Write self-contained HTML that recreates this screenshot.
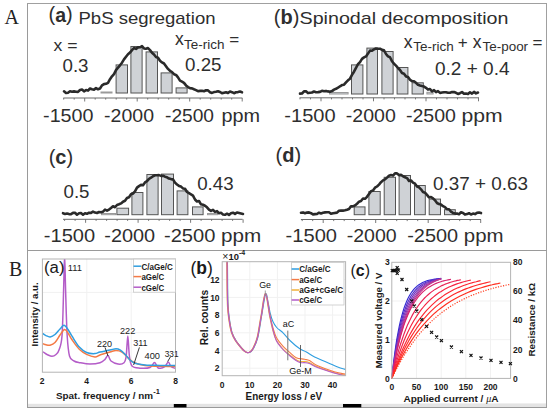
<!DOCTYPE html><html><head><meta charset="utf-8"><style>html,body{margin:0;padding:0;background:#fff;width:550px;height:412px;overflow:hidden}svg{display:block}</style></head><body>
<svg width="550" height="412" viewBox="0 0 550 412">
<rect width="550" height="412" fill="#fff"/>
<text x="4.5" y="23.6" font-family="Liberation Serif" font-size="20" fill="#222">A</text>
<text x="9" y="276.4" font-family="Liberation Serif" font-size="20" fill="#222">B</text>
<rect x="404" y="403.5" width="142" height="4" fill="#e6e6e6"/>
<rect x="28" y="403.8" width="518" height="3.4" fill="#e4e4e4"/>
<line x1="27.5" y1="3" x2="27.5" y2="408" stroke="#9a9a9a" stroke-width="1"/>
<line x1="27" y1="3.5" x2="547" y2="3.5" stroke="#a0a0a0" stroke-width="1"/>
<line x1="546.5" y1="3" x2="546.5" y2="408" stroke="#a0a0a0" stroke-width="1"/>
<line x1="27" y1="250.5" x2="547" y2="250.5" stroke="#9a9a9a" stroke-width="1"/>
<line x1="27" y1="407.5" x2="547" y2="407.5" stroke="#9a9a9a" stroke-width="1.2"/>
<rect x="173.8" y="404" width="12.7" height="3.4" fill="#000"/>
<rect x="343" y="404" width="18.3" height="3.4" fill="#000"/>
<text x="48.5" y="21.3" font-family="Liberation Sans" font-size="20" fill="#2e2e2e">(<tspan font-weight="bold" dy="0.5" font-size="19.5">a</tspan><tspan dy="-0.5">)</tspan></text>
<text x="78.5" y="23.5" font-family="Liberation Sans" font-size="17" font-weight="normal" text-anchor="start" fill="#2e2e2e" textLength="137" lengthAdjust="spacingAndGlyphs" >PbS segregation</text>
<text x="53.5" y="51" font-family="Liberation Sans" font-size="17" font-weight="normal" text-anchor="start" fill="#2e2e2e" textLength="24" lengthAdjust="spacingAndGlyphs" >x =</text>
<text x="62.5" y="72" font-family="Liberation Sans" font-size="17.5" font-weight="normal" text-anchor="start" fill="#2e2e2e" textLength="26" lengthAdjust="spacingAndGlyphs" >0.3</text>
<text x="174.9" y="45" font-family="Liberation Sans" font-size="17.5" font-weight="normal" text-anchor="start" fill="#2e2e2e" >x</text>
<text x="184" y="48.5" font-family="Liberation Sans" font-size="12.5" font-weight="normal" text-anchor="start" fill="#2e2e2e" textLength="40.4" lengthAdjust="spacingAndGlyphs" >Te-rich</text>
<text x="229.2" y="45" font-family="Liberation Sans" font-size="17" font-weight="normal" text-anchor="start" fill="#2e2e2e" >=</text>
<text x="185" y="70.6" font-family="Liberation Sans" font-size="18" font-weight="normal" text-anchor="start" fill="#2e2e2e" textLength="36.5" lengthAdjust="spacingAndGlyphs" >0.25</text>
<text x="43.1" y="122" font-family="Liberation Sans" font-size="19" font-weight="normal" text-anchor="start" fill="#2e2e2e" textLength="50.4" lengthAdjust="spacingAndGlyphs" >-1500</text>
<text x="104.1" y="122" font-family="Liberation Sans" font-size="19" font-weight="normal" text-anchor="start" fill="#2e2e2e" textLength="49.9" lengthAdjust="spacingAndGlyphs" >-2000</text>
<text x="165" y="122" font-family="Liberation Sans" font-size="19" font-weight="normal" text-anchor="start" fill="#2e2e2e" textLength="49" lengthAdjust="spacingAndGlyphs" >-2500</text>
<text x="221.5" y="122" font-family="Liberation Sans" font-size="19" font-weight="normal" text-anchor="start" fill="#2e2e2e" textLength="38.6" lengthAdjust="spacingAndGlyphs" >ppm</text>
<rect x="101" y="92" width="11" height="1" fill="#cfd2d6" stroke="#9a9a9a" stroke-width="1"/>
<rect x="116.1" y="64.9" width="11.4" height="28.1" fill="#cfd2d6" stroke="#555" stroke-width="1"/>
<rect x="130.9" y="46.5" width="11.2" height="46.5" fill="#cfd2d6" stroke="#555" stroke-width="1"/>
<rect x="146.1" y="51.9" width="11.4" height="41.1" fill="#cfd2d6" stroke="#555" stroke-width="1"/>
<rect x="161.1" y="72.9" width="11" height="20.1" fill="#cfd2d6" stroke="#555" stroke-width="1"/>
<rect x="176.1" y="87.9" width="11" height="5.1" fill="#cfd2d6" stroke="#555" stroke-width="1"/>
<line x1="63.3" y1="98" x2="242.4" y2="98" stroke="#6a6a6a" stroke-width="1"/>
<line x1="84.7" y1="98" x2="84.7" y2="101.5" stroke="#6a6a6a" stroke-width="0.9"/>
<line x1="74.2" y1="98" x2="74.2" y2="99.6" stroke="#6a6a6a" stroke-width="0.9"/>
<line x1="63.7" y1="98" x2="63.7" y2="99.6" stroke="#6a6a6a" stroke-width="0.9"/>
<line x1="95.2" y1="98" x2="95.2" y2="99.6" stroke="#6a6a6a" stroke-width="0.9"/>
<line x1="105.7" y1="98" x2="105.7" y2="99.6" stroke="#6a6a6a" stroke-width="0.9"/>
<line x1="116.2" y1="98" x2="116.2" y2="99.6" stroke="#6a6a6a" stroke-width="0.9"/>
<line x1="126.7" y1="98" x2="126.7" y2="99.6" stroke="#6a6a6a" stroke-width="0.9"/>
<line x1="137.2" y1="98" x2="137.2" y2="101.5" stroke="#6a6a6a" stroke-width="0.9"/>
<line x1="147.7" y1="98" x2="147.7" y2="99.6" stroke="#6a6a6a" stroke-width="0.9"/>
<line x1="158.2" y1="98" x2="158.2" y2="99.6" stroke="#6a6a6a" stroke-width="0.9"/>
<line x1="168.7" y1="98" x2="168.7" y2="99.6" stroke="#6a6a6a" stroke-width="0.9"/>
<line x1="179.2" y1="98" x2="179.2" y2="99.6" stroke="#6a6a6a" stroke-width="0.9"/>
<line x1="189.7" y1="98" x2="189.7" y2="101.5" stroke="#6a6a6a" stroke-width="0.9"/>
<line x1="200.2" y1="98" x2="200.2" y2="99.6" stroke="#6a6a6a" stroke-width="0.9"/>
<line x1="210.7" y1="98" x2="210.7" y2="99.6" stroke="#6a6a6a" stroke-width="0.9"/>
<line x1="221.2" y1="98" x2="221.2" y2="99.6" stroke="#6a6a6a" stroke-width="0.9"/>
<line x1="231.7" y1="98" x2="231.7" y2="99.6" stroke="#6a6a6a" stroke-width="0.9"/>
<line x1="242.2" y1="98" x2="242.2" y2="101.5" stroke="#6a6a6a" stroke-width="0.9"/>
<path d="M64,91.3 L66,93 L68,92.7 L70,91.3 L72,91.7 L74,91.4 L76,91.7 L78,91.9 L80,90 L82,89.6 L84,91.3 L86,90.1 L88,90.6 L90,88.5 L92,89.3 L94,89.6 L96,88.1 L98,89.3 L100,88.5 L102,85.4 L104,84.1 L106,83.8 L108,82.8 L110,79.2 L112,76.3 L114,74.1 L116,70.1 L118,67.7 L120,65.3 L122,62.7 L124,59.4 L126,56.8 L128,54.3 L130,52.6 L132,50.2 L134,48 L136,48.9 L138,47.4 L140,47.3 L142,46.2 L144,48.4 L146,48.8 L148,48.1 L150,50.1 L152,52.7 L154,54.5 L156,57 L158,57.8 L160,60.8 L162,62.4 L164,63.5 L166,66.2 L168,68.9 L170,70.8 L172,72 L174,74.2 L176,74.9 L178,77.4 L180,80.7 L182,81.7 L184,82.9 L186,85.4 L188,87.1 L190,88.2 L192,88.4 L194,89.3 L196,90.1 L198,91.2 L200,90.9 L202,90.8 L204,91.2 L206,90.3 L208,90.4 L210,92.2 L212,92.9 L214,92.1 L216,91.7 L218,91.2 L220,92 L222,93.2 L224,92.7 L226,92.2 L228,93 L230,91.5 L232,92.2 L234,93.2 L236,92.3 L238,92.1 L240,91.6 L242,92.3" fill="none" stroke="#2a2a2a" stroke-width="2.6" stroke-linejoin="round" stroke-linecap="round"/>
<text x="273.8" y="23.8" font-family="Liberation Sans" font-size="20" fill="#2e2e2e">(<tspan font-weight="bold">b</tspan>)</text>
<text x="299.5" y="24" font-family="Liberation Sans" font-size="17" font-weight="normal" text-anchor="start" fill="#2e2e2e" textLength="209" lengthAdjust="spacingAndGlyphs" >Spinodal decomposition</text>
<text x="403.7" y="48.2" font-family="Liberation Sans" font-size="17.5" font-weight="normal" text-anchor="start" fill="#2e2e2e" >x</text>
<text x="413.3" y="51.3" font-family="Liberation Sans" font-size="12.5" font-weight="normal" text-anchor="start" fill="#2e2e2e" textLength="40.4" lengthAdjust="spacingAndGlyphs" >Te-rich</text>
<text x="457.8" y="48.2" font-family="Liberation Sans" font-size="17" font-weight="normal" text-anchor="start" fill="#2e2e2e" >+</text>
<text x="472.7" y="48.2" font-family="Liberation Sans" font-size="17.5" font-weight="normal" text-anchor="start" fill="#2e2e2e" >x</text>
<text x="482.5" y="51.3" font-family="Liberation Sans" font-size="12.5" font-weight="normal" text-anchor="start" fill="#2e2e2e" textLength="45.6" lengthAdjust="spacingAndGlyphs" >Te-poor</text>
<text x="532.4" y="48.2" font-family="Liberation Sans" font-size="17" font-weight="normal" text-anchor="start" fill="#2e2e2e" >=</text>
<text x="435" y="75" font-family="Liberation Sans" font-size="18" font-weight="normal" text-anchor="start" fill="#2e2e2e" textLength="74.5" lengthAdjust="spacingAndGlyphs" >0.2 + 0.4</text>
<text x="284.3" y="122" font-family="Liberation Sans" font-size="19" font-weight="normal" text-anchor="start" fill="#2e2e2e" textLength="51.3" lengthAdjust="spacingAndGlyphs" >-1500</text>
<text x="345.8" y="122" font-family="Liberation Sans" font-size="19" font-weight="normal" text-anchor="start" fill="#2e2e2e" textLength="50" lengthAdjust="spacingAndGlyphs" >-2000</text>
<text x="405.9" y="122" font-family="Liberation Sans" font-size="19" font-weight="normal" text-anchor="start" fill="#2e2e2e" textLength="50" lengthAdjust="spacingAndGlyphs" >-2500</text>
<text x="461.5" y="122" font-family="Liberation Sans" font-size="19" font-weight="normal" text-anchor="start" fill="#2e2e2e" textLength="41.2" lengthAdjust="spacingAndGlyphs" >ppm</text>
<rect x="329.5" y="92.5" width="18.6" height="1.5" fill="#cfd2d6" stroke="#9a9a9a" stroke-width="1"/>
<rect x="351.5" y="64.9" width="11.4" height="29.1" fill="#cfd2d6" stroke="#555" stroke-width="1"/>
<rect x="366.9" y="48.1" width="10.6" height="45.9" fill="#cfd2d6" stroke="#555" stroke-width="1"/>
<rect x="381.9" y="51.5" width="11.2" height="42.5" fill="#cfd2d6" stroke="#555" stroke-width="1"/>
<rect x="397.1" y="67.5" width="10.8" height="26.5" fill="#cfd2d6" stroke="#555" stroke-width="1"/>
<rect x="412.1" y="82.8" width="11.2" height="11.2" fill="#cfd2d6" stroke="#555" stroke-width="1"/>
<rect x="426.9" y="92.3" width="6.2" height="1.7" fill="#cfd2d6" stroke="#9a9a9a" stroke-width="1"/>
<line x1="299.6" y1="97.8" x2="479" y2="97.8" stroke="#6a6a6a" stroke-width="1"/>
<line x1="321" y1="97.8" x2="321" y2="101.3" stroke="#6a6a6a" stroke-width="0.9"/>
<line x1="310.5" y1="97.8" x2="310.5" y2="99.4" stroke="#6a6a6a" stroke-width="0.9"/>
<line x1="300" y1="97.8" x2="300" y2="99.4" stroke="#6a6a6a" stroke-width="0.9"/>
<line x1="331.5" y1="97.8" x2="331.5" y2="99.4" stroke="#6a6a6a" stroke-width="0.9"/>
<line x1="342" y1="97.8" x2="342" y2="99.4" stroke="#6a6a6a" stroke-width="0.9"/>
<line x1="352.5" y1="97.8" x2="352.5" y2="99.4" stroke="#6a6a6a" stroke-width="0.9"/>
<line x1="363" y1="97.8" x2="363" y2="99.4" stroke="#6a6a6a" stroke-width="0.9"/>
<line x1="373.5" y1="97.8" x2="373.5" y2="101.3" stroke="#6a6a6a" stroke-width="0.9"/>
<line x1="384" y1="97.8" x2="384" y2="99.4" stroke="#6a6a6a" stroke-width="0.9"/>
<line x1="394.5" y1="97.8" x2="394.5" y2="99.4" stroke="#6a6a6a" stroke-width="0.9"/>
<line x1="405" y1="97.8" x2="405" y2="99.4" stroke="#6a6a6a" stroke-width="0.9"/>
<line x1="415.5" y1="97.8" x2="415.5" y2="99.4" stroke="#6a6a6a" stroke-width="0.9"/>
<line x1="426" y1="97.8" x2="426" y2="101.3" stroke="#6a6a6a" stroke-width="0.9"/>
<line x1="436.5" y1="97.8" x2="436.5" y2="99.4" stroke="#6a6a6a" stroke-width="0.9"/>
<line x1="447" y1="97.8" x2="447" y2="99.4" stroke="#6a6a6a" stroke-width="0.9"/>
<line x1="457.5" y1="97.8" x2="457.5" y2="99.4" stroke="#6a6a6a" stroke-width="0.9"/>
<line x1="468" y1="97.8" x2="468" y2="99.4" stroke="#6a6a6a" stroke-width="0.9"/>
<line x1="478.5" y1="97.8" x2="478.5" y2="101.3" stroke="#6a6a6a" stroke-width="0.9"/>
<path d="M300,93.6 L302,93.5 L304,91.4 L306,91.3 L308,93.1 L310,92.7 L312,92.5 L314,91.5 L316,92.2 L318,92.1 L320,91.9 L322,90.8 L324,91.3 L326,90.9 L328,91.4 L330,91.7 L332,91.1 L334,89.6 L336,88.8 L338,87.7 L340,86.3 L342,85.1 L344,84.7 L346,82.4 L348,80.3 L350,78.7 L352,74.8 L354,71.7 L356,67.8 L358,64.2 L360,62.1 L362,58.9 L364,57.4 L366,56.4 L368,53.6 L370,50.6 L372,50.8 L374,49.4 L376,48.5 L378,48.7 L380,48.7 L382,49.8 L384,50.3 L386,54 L388,56.4 L390,57.2 L392,61.3 L394,63.8 L396,65.6 L398,68 L400,70 L402,73 L404,73.8 L406,76.4 L408,76.9 L410,79.7 L412,81.1 L414,81.3 L416,82.8 L418,84.8 L420,85.5 L422,86.1 L424,86.6 L426,87.8 L428,89.6 L430,89 L432,91.3 L434,90.2 L436,92.2 L438,91.1 L440,92.9 L442,92.5 L444,92.2 L446,92.3 L448,92.8 L450,92.7 L452,92.1 L454,92 L456,92.8 L458,93.9 L460,93.2 L462,92 L464,93.8 L466,93.5 L468,94 L470,92.3 L472,93.6 L474,91.9 L476,93.4 L478,92.5" fill="none" stroke="#2a2a2a" stroke-width="2.6" stroke-linejoin="round" stroke-linecap="round"/>
<text x="48.7" y="163.6" font-family="Liberation Sans" font-size="20" fill="#2e2e2e">(<tspan font-weight="bold">c</tspan>)</text>
<text x="63.5" y="198" font-family="Liberation Sans" font-size="17.5" font-weight="normal" text-anchor="start" fill="#2e2e2e" textLength="26" lengthAdjust="spacingAndGlyphs" >0.5</text>
<text x="197.2" y="190" font-family="Liberation Sans" font-size="18" font-weight="normal" text-anchor="start" fill="#2e2e2e" textLength="36.5" lengthAdjust="spacingAndGlyphs" >0.43</text>
<text x="43.8" y="242.3" font-family="Liberation Sans" font-size="19" font-weight="normal" text-anchor="start" fill="#2e2e2e" textLength="51.3" lengthAdjust="spacingAndGlyphs" >-1500</text>
<text x="104.3" y="242.3" font-family="Liberation Sans" font-size="19" font-weight="normal" text-anchor="start" fill="#2e2e2e" textLength="50.9" lengthAdjust="spacingAndGlyphs" >-2000</text>
<text x="164" y="242.3" font-family="Liberation Sans" font-size="19" font-weight="normal" text-anchor="start" fill="#2e2e2e" textLength="51.4" lengthAdjust="spacingAndGlyphs" >-2500</text>
<text x="221" y="242.3" font-family="Liberation Sans" font-size="19" font-weight="normal" text-anchor="start" fill="#2e2e2e" textLength="40.2" lengthAdjust="spacingAndGlyphs" >ppm</text>
<rect x="101.5" y="213.5" width="14" height="1.2" fill="#cfd2d6" stroke="#9a9a9a" stroke-width="1"/>
<rect x="116.9" y="208.2" width="11.7" height="6.5" fill="#cfd2d6" stroke="#555" stroke-width="1"/>
<rect x="131.9" y="192.5" width="11" height="22.2" fill="#cfd2d6" stroke="#555" stroke-width="1"/>
<rect x="146.9" y="174.5" width="11.2" height="40.2" fill="#cfd2d6" stroke="#555" stroke-width="1"/>
<rect x="161.5" y="174.1" width="12" height="40.6" fill="#cfd2d6" stroke="#555" stroke-width="1"/>
<rect x="177.1" y="190.9" width="10.8" height="23.8" fill="#cfd2d6" stroke="#555" stroke-width="1"/>
<rect x="192.5" y="206.9" width="10.6" height="7.8" fill="#cfd2d6" stroke="#555" stroke-width="1"/>
<rect x="207.5" y="213.5" width="10" height="1.2" fill="#cfd2d6" stroke="#9a9a9a" stroke-width="1"/>
<line x1="63" y1="219.3" x2="242.6" y2="219.3" stroke="#6a6a6a" stroke-width="1"/>
<line x1="85.6" y1="219.3" x2="85.6" y2="222.8" stroke="#6a6a6a" stroke-width="0.9"/>
<line x1="75.1" y1="219.3" x2="75.1" y2="220.9" stroke="#6a6a6a" stroke-width="0.9"/>
<line x1="64.6" y1="219.3" x2="64.6" y2="220.9" stroke="#6a6a6a" stroke-width="0.9"/>
<line x1="96.1" y1="219.3" x2="96.1" y2="220.9" stroke="#6a6a6a" stroke-width="0.9"/>
<line x1="106.6" y1="219.3" x2="106.6" y2="220.9" stroke="#6a6a6a" stroke-width="0.9"/>
<line x1="117.1" y1="219.3" x2="117.1" y2="220.9" stroke="#6a6a6a" stroke-width="0.9"/>
<line x1="127.6" y1="219.3" x2="127.6" y2="220.9" stroke="#6a6a6a" stroke-width="0.9"/>
<line x1="138.1" y1="219.3" x2="138.1" y2="222.8" stroke="#6a6a6a" stroke-width="0.9"/>
<line x1="148.6" y1="219.3" x2="148.6" y2="220.9" stroke="#6a6a6a" stroke-width="0.9"/>
<line x1="159.1" y1="219.3" x2="159.1" y2="220.9" stroke="#6a6a6a" stroke-width="0.9"/>
<line x1="169.6" y1="219.3" x2="169.6" y2="220.9" stroke="#6a6a6a" stroke-width="0.9"/>
<line x1="180.1" y1="219.3" x2="180.1" y2="220.9" stroke="#6a6a6a" stroke-width="0.9"/>
<line x1="190.6" y1="219.3" x2="190.6" y2="222.8" stroke="#6a6a6a" stroke-width="0.9"/>
<line x1="201.1" y1="219.3" x2="201.1" y2="220.9" stroke="#6a6a6a" stroke-width="0.9"/>
<line x1="211.6" y1="219.3" x2="211.6" y2="220.9" stroke="#6a6a6a" stroke-width="0.9"/>
<line x1="222.1" y1="219.3" x2="222.1" y2="220.9" stroke="#6a6a6a" stroke-width="0.9"/>
<line x1="232.6" y1="219.3" x2="232.6" y2="220.9" stroke="#6a6a6a" stroke-width="0.9"/>
<line x1="243.1" y1="219.3" x2="243.1" y2="222.8" stroke="#6a6a6a" stroke-width="0.9"/>
<path d="M63,213.2 L65,213.9 L67,213.5 L69,214.1 L71,214.2 L73,212.9 L75,212.8 L77,214.7 L79,213.3 L81,213.1 L83,214.7 L85,213.2 L87,213.8 L89,212.7 L91,212.9 L93,211.6 L95,212.6 L97,213 L99,212 L101,212.3 L103,211.7 L105,209.7 L107,210.7 L109,209.6 L111,208 L113,206.3 L115,207.2 L117,205 L119,204.3 L121,203.4 L123,201.7 L125,200.8 L127,198 L129,197.2 L131,194.3 L133,193.5 L135,191.4 L137,187.6 L139,186.1 L141,184.9 L143,185.2 L145,182.4 L147,181.2 L149,178.8 L151,177.7 L153,176.2 L155,175.3 L157,175.3 L159,175.1 L161,175.9 L163,175.7 L165,176.7 L167,177.3 L169,178.6 L171,179.1 L173,179.4 L175,182.6 L177,184.5 L179,185.9 L181,186.6 L183,188.4 L185,188.8 L187,192 L189,193.2 L191,194.4 L193,195.7 L195,199.5 L197,201.5 L199,201 L201,204.3 L203,204.8 L205,205.7 L207,207.3 L209,209.6 L211,210.9 L213,209.8 L215,211.9 L217,211.1 L219,213.3 L221,212.8 L223,214.4 L225,214.8 L227,213.7 L229,214.9 L231,213.3 L233,212.7 L235,213.9 L237,212.5 L239,212.9 L241,213.4 L243,213.9" fill="none" stroke="#2a2a2a" stroke-width="2.6" stroke-linejoin="round" stroke-linecap="round"/>
<text x="275.5" y="162" font-family="Liberation Sans" font-size="20" fill="#2e2e2e">(<tspan font-weight="bold">d</tspan>)</text>
<text x="433" y="190" font-family="Liberation Sans" font-size="18" font-weight="normal" text-anchor="start" fill="#2e2e2e" textLength="95" lengthAdjust="spacingAndGlyphs" >0.37 + 0.63</text>
<text x="285.6" y="242.3" font-family="Liberation Sans" font-size="19" font-weight="normal" text-anchor="start" fill="#2e2e2e" textLength="51.4" lengthAdjust="spacingAndGlyphs" >-1500</text>
<text x="346.7" y="242.3" font-family="Liberation Sans" font-size="19" font-weight="normal" text-anchor="start" fill="#2e2e2e" textLength="50" lengthAdjust="spacingAndGlyphs" >-2000</text>
<text x="407.2" y="242.3" font-family="Liberation Sans" font-size="19" font-weight="normal" text-anchor="start" fill="#2e2e2e" textLength="50.9" lengthAdjust="spacingAndGlyphs" >-2500</text>
<text x="463.8" y="242.3" font-family="Liberation Sans" font-size="19" font-weight="normal" text-anchor="start" fill="#2e2e2e" textLength="39.7" lengthAdjust="spacingAndGlyphs" >ppm</text>
<rect x="354.2" y="206.9" width="10.8" height="7.8" fill="#cfd2d6" stroke="#555" stroke-width="1"/>
<rect x="368.9" y="191.5" width="11.3" height="23.2" fill="#cfd2d6" stroke="#555" stroke-width="1"/>
<rect x="384.2" y="177.3" width="11.3" height="37.4" fill="#cfd2d6" stroke="#555" stroke-width="1"/>
<rect x="399.1" y="175.5" width="11.4" height="39.2" fill="#cfd2d6" stroke="#555" stroke-width="1"/>
<rect x="414.5" y="185.5" width="10.8" height="29.2" fill="#cfd2d6" stroke="#555" stroke-width="1"/>
<rect x="429.2" y="199.1" width="11.3" height="15.6" fill="#cfd2d6" stroke="#555" stroke-width="1"/>
<rect x="444.5" y="209.7" width="10.8" height="5" fill="#cfd2d6" stroke="#555" stroke-width="1"/>
<line x1="300.9" y1="219.5" x2="481" y2="219.5" stroke="#6a6a6a" stroke-width="1"/>
<line x1="323.2" y1="219.5" x2="323.2" y2="223" stroke="#6a6a6a" stroke-width="0.9"/>
<line x1="312.7" y1="219.5" x2="312.7" y2="221.1" stroke="#6a6a6a" stroke-width="0.9"/>
<line x1="302.2" y1="219.5" x2="302.2" y2="221.1" stroke="#6a6a6a" stroke-width="0.9"/>
<line x1="333.7" y1="219.5" x2="333.7" y2="221.1" stroke="#6a6a6a" stroke-width="0.9"/>
<line x1="344.2" y1="219.5" x2="344.2" y2="221.1" stroke="#6a6a6a" stroke-width="0.9"/>
<line x1="354.7" y1="219.5" x2="354.7" y2="221.1" stroke="#6a6a6a" stroke-width="0.9"/>
<line x1="365.2" y1="219.5" x2="365.2" y2="221.1" stroke="#6a6a6a" stroke-width="0.9"/>
<line x1="375.7" y1="219.5" x2="375.7" y2="223" stroke="#6a6a6a" stroke-width="0.9"/>
<line x1="386.2" y1="219.5" x2="386.2" y2="221.1" stroke="#6a6a6a" stroke-width="0.9"/>
<line x1="396.7" y1="219.5" x2="396.7" y2="221.1" stroke="#6a6a6a" stroke-width="0.9"/>
<line x1="407.2" y1="219.5" x2="407.2" y2="221.1" stroke="#6a6a6a" stroke-width="0.9"/>
<line x1="417.7" y1="219.5" x2="417.7" y2="221.1" stroke="#6a6a6a" stroke-width="0.9"/>
<line x1="428.2" y1="219.5" x2="428.2" y2="223" stroke="#6a6a6a" stroke-width="0.9"/>
<line x1="438.7" y1="219.5" x2="438.7" y2="221.1" stroke="#6a6a6a" stroke-width="0.9"/>
<line x1="449.2" y1="219.5" x2="449.2" y2="221.1" stroke="#6a6a6a" stroke-width="0.9"/>
<line x1="459.7" y1="219.5" x2="459.7" y2="221.1" stroke="#6a6a6a" stroke-width="0.9"/>
<line x1="470.2" y1="219.5" x2="470.2" y2="221.1" stroke="#6a6a6a" stroke-width="0.9"/>
<line x1="480.7" y1="219.5" x2="480.7" y2="223" stroke="#6a6a6a" stroke-width="0.9"/>
<path d="M301,212.8 L303,212.4 L305,213.2 L307,212.6 L309,212.4 L311,213.2 L313,214.4 L315,214.1 L317,214 L319,212.7 L321,213.4 L323,212.7 L325,212.4 L327,212.2 L329,212.3 L331,213.8 L333,213.3 L335,212.9 L337,212.6 L339,210.7 L341,210.5 L343,210.6 L345,210.3 L347,209.8 L349,209 L351,206.2 L353,206.4 L355,205.4 L357,203.8 L359,201.7 L361,201 L363,198.5 L365,198.8 L367,196.8 L369,194 L371,191.2 L373,190.5 L375,187.7 L377,186.5 L379,184.6 L381,182.2 L383,180.4 L385,179.4 L387,177.6 L389,175.7 L391,175.1 L393,175.6 L395,173.4 L397,173.4 L399,175.1 L401,174.9 L403,176.3 L405,177.2 L407,178.1 L409,181 L411,180.5 L413,182.6 L415,183.7 L417,186.5 L419,187.3 L421,189.3 L423,192 L425,192.7 L427,194.9 L429,197.4 L431,197 L433,198.4 L435,200.3 L437,203 L439,204.1 L441,204.5 L443,206.2 L445,207.2 L447,209.1 L449,209.2 L451,211.7 L453,212.9 L455,213.6 L457,213.5 L459,214.3 L461,212.2 L463,212.9 L465,214.6 L467,214.1 L469,213.2 L471,214.5 L473,213.6 L475,214.1 L477,212.8 L479,212.5 L481,213.1" fill="none" stroke="#2a2a2a" stroke-width="2.6" stroke-linejoin="round" stroke-linecap="round"/>
<line x1="86.8" y1="259" x2="86.8" y2="372.2" stroke="#f1f1f1" stroke-width="1"/>
<line x1="131.2" y1="259" x2="131.2" y2="372.2" stroke="#f1f1f1" stroke-width="1"/>
<line x1="42.4" y1="292.4" x2="175.5" y2="292.4" stroke="#f1f1f1" stroke-width="1"/>
<line x1="42.4" y1="332.7" x2="175.5" y2="332.7" stroke="#f1f1f1" stroke-width="1"/>
<clipPath id="ca"><rect x="42.4" y="259" width="133.1" height="113.19999999999999"/></clipPath>
<g clip-path="url(#ca)">
<path d="M42,356.9 C42.1,356.1 41.6,352.3 42.4,351.9 C43.2,351.5 45.4,353.8 47,354.5 C48.6,355.2 50.5,356.3 52,356.3 C53.5,356.3 54.8,355.6 56,354.5 C57.2,353.4 58,353.1 59,350 C60,346.9 61.2,346 62,336 C62.8,326 63.2,303.5 63.6,290 C64,276.5 64.3,255 64.6,255 C64.9,255 65.2,276.5 65.6,290 C66,303.5 66.5,325 67.2,336 C67.9,347 68.4,351.8 69.5,356 C70.6,360.2 72.2,359.9 74,361 C75.8,362.1 77.3,362.2 80,362.7 C82.7,363.2 86.7,364 90,364 C93.3,364 97.5,363.5 100,362.7 C102.5,361.9 103.7,360.6 105,359.4 C106.3,358.2 107,355.1 108,355.4 C109,355.7 109.3,359.6 111,361 C112.7,362.4 115.8,363.7 118,364 C120.2,364.3 122.6,364 124,362.7 C125.4,361.4 125.6,360.4 126.2,356 C126.8,351.6 127.3,336 127.8,336 C128.3,336 128.7,351 129.4,356 C130.1,361 130.2,364 132,366 C133.8,368 137,367.9 140,368.2 C143,368.4 147.6,368.4 150,367.5 C152.4,366.6 153.2,362.6 154.5,362.6 C155.8,362.7 156.8,366.9 158,367.8 C159.2,368.7 160.8,368.2 162,368 C163.2,367.8 163.9,367.5 165,366.5 C166.1,365.5 167.3,361.9 168.3,361.9 C169.3,361.9 169.8,365.4 171,366.5 C172.2,367.6 174.8,368.1 175.5,368.4" fill="none" stroke="#b45cc8" stroke-width="1.5" stroke-linejoin="round" />
<path d="M42.4,343.5 C43,343.7 44.7,344.5 46,344.8 C47.3,345.1 48.5,345.6 50,345.2 C51.5,344.8 53.3,344.2 55,342.5 C56.7,340.8 58.4,337.2 60,335 C61.6,332.8 63.2,329.7 64.5,329.4 C65.8,329.1 66.8,331.3 68,333 C69.2,334.7 70.1,337.1 72,339.8 C73.9,342.5 76.9,346.9 79.3,349.3 C81.7,351.7 84,353.1 86.6,354.4 C89.2,355.7 92.8,356.8 95,356.9 C97.2,357 97.5,355.8 100,355 C102.5,354.2 107.3,352.8 110,352 C112.7,351.2 114,350.4 116,350.4 C118,350.4 120.2,350.9 122,352 C123.8,353.1 125.3,355.1 127,356.7 C128.7,358.3 130.2,360.2 132,361.4 C133.8,362.6 135.8,363.3 138,364 C140.2,364.7 141.3,365 145,365.4 C148.7,365.8 154.9,366.1 160,366.3 C165.1,366.5 172.9,366.6 175.5,366.6" fill="none" stroke="#f47a45" stroke-width="1.5" stroke-linejoin="round" />
<path d="M42.4,333.3 C43,333.7 44.7,335 46,335.6 C47.3,336.2 48.7,337.1 50.2,336.9 C51.7,336.7 53.4,335.8 55,334.5 C56.6,333.2 58.5,330.5 60,329 C61.5,327.5 62.7,325.2 64,325.3 C65.3,325.4 66.7,327.7 68,329.5 C69.3,331.3 70.1,333.3 72,336.2 C73.9,339.1 76.9,344.4 79.3,347.1 C81.7,349.8 84,351.4 86.6,352.5 C89.2,353.6 92.8,353.7 95,353.6 C97.2,353.5 97.5,352.6 100,352 C102.5,351.4 107.3,350.6 110,350 C112.7,349.4 114.3,348.7 116,348.7 C117.7,348.7 118.5,348.9 120,349.8 C121.5,350.7 123.3,352.5 125,354.2 C126.7,355.9 128.3,358.5 130,360 C131.7,361.5 132.5,362.4 135,363.2 C137.5,364 140.8,364.6 145,365 C149.2,365.4 154.9,365.3 160,365.4 C165.1,365.5 172.9,365.5 175.5,365.5" fill="none" stroke="#2f9ee0" stroke-width="1.5" stroke-linejoin="round" />
</g>
<rect x="42.4" y="259" width="133.1" height="113.19999999999999" fill="none" stroke="#b4b4b4" stroke-width="1"/>
<line x1="105" y1="347.4" x2="108" y2="356" stroke="#222" stroke-width="0.9"/>
<line x1="139.4" y1="347.4" x2="133.6" y2="365" stroke="#222" stroke-width="0.9"/>
<line x1="170.5" y1="356.8" x2="167.6" y2="361.6" stroke="#222" stroke-width="0.9"/>
<rect x="133.5" y="259.1" width="42" height="33.1" fill="#fff" stroke="#c8c8c8" stroke-width="0.8"/>
<line x1="133.5" y1="266.2" x2="141.4" y2="266.2" stroke="#2f9ee0" stroke-width="1.5"/>
<text x="141.4" y="269.5" font-family="Liberation Sans" font-size="8.7" font-weight="bold" text-anchor="start" fill="#1a1a1a" textLength="31.4" lengthAdjust="spacingAndGlyphs" >C/aGe/C</text>
<line x1="133.5" y1="276.6" x2="141.4" y2="276.6" stroke="#f47a45" stroke-width="1.5"/>
<text x="141.4" y="279.9" font-family="Liberation Sans" font-size="8.7" font-weight="bold" text-anchor="start" fill="#1a1a1a" textLength="22.9" lengthAdjust="spacingAndGlyphs" >aGe/C</text>
<line x1="133.5" y1="287.2" x2="141.4" y2="287.2" stroke="#b45cc8" stroke-width="1.5"/>
<text x="141.4" y="290.5" font-family="Liberation Sans" font-size="8.7" font-weight="bold" text-anchor="start" fill="#1a1a1a" textLength="22.9" lengthAdjust="spacingAndGlyphs" >cGe/C</text>
<text x="44" y="272.5" font-family="Liberation Sans" font-size="16" font-weight="normal" text-anchor="start" fill="#1a1a1a" textLength="20.5" lengthAdjust="spacingAndGlyphs" >(a)</text>
<text x="67.7" y="270.8" font-family="Liberation Sans" font-size="8.6" font-weight="normal" text-anchor="start" fill="#222" textLength="14.2" lengthAdjust="spacingAndGlyphs" >111</text>
<text x="96.9" y="346.7" font-family="Liberation Sans" font-size="8.6" font-weight="normal" text-anchor="start" fill="#222" textLength="15.1" lengthAdjust="spacingAndGlyphs" >220</text>
<text x="120" y="334" font-family="Liberation Sans" font-size="8.6" font-weight="normal" text-anchor="start" fill="#222" textLength="15.3" lengthAdjust="spacingAndGlyphs" >222</text>
<text x="133.2" y="346" font-family="Liberation Sans" font-size="8.6" font-weight="normal" text-anchor="start" fill="#222" textLength="14.4" lengthAdjust="spacingAndGlyphs" >311</text>
<text x="144.5" y="359.2" font-family="Liberation Sans" font-size="8.6" font-weight="normal" text-anchor="start" fill="#222" textLength="15.5" lengthAdjust="spacingAndGlyphs" >400</text>
<text x="164.7" y="357" font-family="Liberation Sans" font-size="8.6" font-weight="normal" text-anchor="start" fill="#222" textLength="13.8" lengthAdjust="spacingAndGlyphs" >331</text>
<text x="42.2" y="384.4" font-family="Liberation Sans" font-size="8.5" font-weight="bold" text-anchor="middle" fill="#1a1a1a" >2</text>
<text x="86.6" y="384.4" font-family="Liberation Sans" font-size="8.5" font-weight="bold" text-anchor="middle" fill="#1a1a1a" >4</text>
<text x="131" y="384.4" font-family="Liberation Sans" font-size="8.5" font-weight="bold" text-anchor="middle" fill="#1a1a1a" >6</text>
<text x="175.5" y="384.4" font-family="Liberation Sans" font-size="8.5" font-weight="bold" text-anchor="middle" fill="#1a1a1a" >8</text>
<text x="56" y="399" font-family="Liberation Sans" font-size="9.9" font-weight="bold" fill="#1a1a1a">Spat. frequency / nm<tspan font-size="7.5" dy="-5">-1</tspan></text>
<text transform="translate(37.5,314.4) rotate(-90)" x="0" y="0" font-family="Liberation Sans" font-size="9.6" font-weight="bold" text-anchor="middle" fill="#1a1a1a">Intensity / a.u.</text>
<line x1="249.8" y1="261.7" x2="249.8" y2="375.7" stroke="#f1f1f1" stroke-width="1"/>
<line x1="277.4" y1="261.7" x2="277.4" y2="375.7" stroke="#f1f1f1" stroke-width="1"/>
<line x1="305" y1="261.7" x2="305" y2="375.7" stroke="#f1f1f1" stroke-width="1"/>
<line x1="332.6" y1="261.7" x2="332.6" y2="375.7" stroke="#f1f1f1" stroke-width="1"/>
<line x1="222.2" y1="368.2" x2="345.6" y2="368.2" stroke="#f1f1f1" stroke-width="1"/>
<line x1="222.2" y1="350.5" x2="345.6" y2="350.5" stroke="#f1f1f1" stroke-width="1"/>
<line x1="222.2" y1="332.8" x2="345.6" y2="332.8" stroke="#f1f1f1" stroke-width="1"/>
<line x1="222.2" y1="315.1" x2="345.6" y2="315.1" stroke="#f1f1f1" stroke-width="1"/>
<line x1="222.2" y1="297.4" x2="345.6" y2="297.4" stroke="#f1f1f1" stroke-width="1"/>
<line x1="222.2" y1="279.7" x2="345.6" y2="279.7" stroke="#f1f1f1" stroke-width="1"/>
<clipPath id="cb"><rect x="222.2" y="261.7" width="123.40000000000003" height="114.0"/></clipPath>
<g clip-path="url(#cb)">
<path d="M227.4,255 C227.5,260.8 227.6,281.3 227.7,290 C227.8,298.7 227.9,302.2 228.2,307 C228.5,311.8 228.8,314.7 229.4,318.9 C230,323.1 230.9,328.7 232,332.4 C233.1,336.1 234.5,338.3 236.2,341 C237.9,343.7 240.7,346.8 242.2,348.6 C243.7,350.4 244.4,350.9 245.4,351.6 C246.4,352.3 247.2,352.8 248.1,352.8 C249,352.8 249.8,352.5 250.7,351.8 C251.6,351.1 252.2,351 253.4,348.6 C254.6,346.2 256.4,343 257.8,337.5 C259.2,332 260.4,322.8 261.7,315.5 C263,308.2 264.6,295.9 265.7,294 C266.8,292.1 267.6,300.7 268.4,304 C269.2,307.3 269.6,311.1 270.4,314 C271.1,316.9 271.8,319.2 272.9,321.5 C273.9,323.8 275,325.6 276.7,327.5 C278.4,329.4 281.1,330.9 283.3,333.1 C285.5,335.3 287.1,337.9 289.9,340.5 C292.6,343.1 297,346.9 299.8,348.8 C302.5,350.7 303.9,350.6 306.4,352 C308.9,353.4 311.3,355.3 314.6,357 C317.9,358.7 322.3,360.3 326.2,362 C330.1,363.7 334.4,365.7 337.7,367 C341,368.3 344.6,369.2 346,369.7" fill="none" stroke="#2f9ee0" stroke-width="1.1" stroke-linejoin="round" />
<path d="M226.7,255 C226.8,260.8 226.9,281.3 227,290 C227.1,298.7 227.2,302.2 227.5,307 C227.8,311.8 228.1,314.7 228.7,318.9 C229.3,323.1 230.2,328.7 231.3,332.4 C232.4,336.1 233.8,338.3 235.5,341 C237.2,343.7 240,346.8 241.5,348.6 C243,350.4 243.7,350.9 244.7,351.6 C245.7,352.3 246.5,352.8 247.4,352.8 C248.3,352.8 249.1,352.5 250,351.8 C250.9,351.1 251.5,351 252.7,348.6 C253.9,346.2 255.7,343 257.1,337.5 C258.5,332 259.6,322.8 261,315.5 C262.4,308.2 263.8,293.6 265.2,293.6 C266.6,293.6 268.3,309.6 269.5,315.5 C270.7,321.4 271.4,325 272.5,329 C273.6,333 274.3,336.2 276,339.5 C277.7,342.8 280.4,346 282.6,348.5 C284.8,351 287,352.7 289.2,354.5 C291.4,356.3 293.9,358.3 295.7,359.5 C297.5,360.7 298.8,361.2 300.2,361.5 C301.6,361.8 302.5,361.3 304,361.5 C305.5,361.7 306.8,361.6 309,362.5 C311.2,363.4 313.1,365.1 317.2,366.8 C321.3,368.5 329,371.1 333.7,372.5 C338.4,373.9 343.4,374.8 345.3,375.2" fill="none" stroke="#f2b13a" stroke-width="1.1" stroke-linejoin="round" />
<path d="M227.2,254.8 C227.2,260.6 227.4,281.1 227.5,289.8 C227.6,298.5 227.7,302 228,306.8 C228.3,311.6 228.6,314.5 229.2,318.7 C229.8,322.9 230.7,328.5 231.8,332.2 C232.9,335.9 234.3,338.1 236,340.8 C237.7,343.5 240.5,346.6 242,348.4 C243.5,350.2 244.2,350.7 245.2,351.4 C246.2,352.1 247,352.6 247.9,352.6 C248.8,352.6 249.6,352.3 250.5,351.6 C251.4,350.9 252,350.8 253.2,348.4 C254.4,346 256.2,342.8 257.6,337.3 C259,331.8 260.1,322.6 261.5,315.3 C262.9,308 264.3,293.4 265.7,293.4 C267.1,293.4 268.8,309.6 270,315.3 C271.2,321 271.9,324.1 273,327.8 C274.1,331.6 274.8,334.7 276.5,337.8 C278.2,340.9 280.9,344 283.1,346.4 C285.3,348.8 287.5,350.5 289.7,352.4 C291.9,354.3 293.7,356.6 296.2,357.7 C298.7,358.8 302.3,358.8 304.5,359.3 C306.7,359.8 307.3,359.5 309.5,360.6 C311.7,361.7 313.6,364 317.7,365.8 C321.8,367.6 329.5,370.3 334.2,371.7 C338.9,373.1 343.9,373.8 345.8,374.2" fill="none" stroke="#f47a45" stroke-width="1.1" stroke-linejoin="round" />
<path d="M227,255 C227.1,260.8 227.2,281.3 227.3,290 C227.4,298.7 227.5,302.2 227.8,307 C228.1,311.8 228.4,314.7 229,318.9 C229.6,323.1 230.5,328.7 231.6,332.4 C232.7,336.1 234.1,338.3 235.8,341 C237.5,343.7 240.3,346.8 241.8,348.6 C243.3,350.4 244,350.9 245,351.6 C246,352.3 246.8,352.8 247.7,352.8 C248.6,352.8 249.4,352.5 250.3,351.8 C251.2,351.1 251.8,351 253,348.6 C254.2,346.2 256,343 257.4,337.5 C258.8,332 259.9,322.8 261.3,315.5 C262.7,308.2 264.1,293.6 265.5,293.6 C266.9,293.6 268.6,309.6 269.8,315.5 C271,321.4 271.7,324.8 272.8,329 C273.9,333.2 274.6,337.1 276.3,340.5 C278,343.9 280.7,347 282.9,349.5 C285.1,352 287.3,353.7 289.5,355.5 C291.7,357.3 294.2,359.3 296,360.5 C297.8,361.7 299.1,362.2 300.5,362.6 C301.9,363 302.8,362.5 304.3,362.6 C305.8,362.8 307.1,362.7 309.3,363.5 C311.5,364.3 313.4,365.9 317.5,367.5 C321.6,369.1 329.3,371.6 334,373 C338.7,374.4 343.7,375.3 345.6,375.8" fill="none" stroke="#b45cc8" stroke-width="1.1" stroke-linejoin="round" />
</g>
<rect x="222.2" y="261.7" width="123.4" height="114" fill="none" stroke="#b4b4b4" stroke-width="1"/>
<line x1="287.8" y1="330.6" x2="287.8" y2="360.3" stroke="#777" stroke-width="1"/>
<line x1="300.5" y1="345" x2="300.5" y2="367" stroke="#555" stroke-width="0.9"/>
<line x1="265.3" y1="290.5" x2="265.3" y2="296" stroke="#888" stroke-width="0.8"/>
<text x="259.2" y="287.5" font-family="Liberation Sans" font-size="9.8" font-weight="normal" text-anchor="start" fill="#111" textLength="11.8" lengthAdjust="spacingAndGlyphs" >Ge</text>
<text x="282.7" y="327.4" font-family="Liberation Sans" font-size="9.6" font-weight="normal" text-anchor="start" fill="#111" textLength="11.4" lengthAdjust="spacingAndGlyphs" >aC</text>
<text x="289.3" y="374.4" font-family="Liberation Sans" font-size="9.6" font-weight="normal" text-anchor="start" fill="#111" textLength="22.5" lengthAdjust="spacingAndGlyphs" >Ge-M</text>
<rect x="291.6" y="262.4" width="52.4" height="42.6" fill="#fff" stroke="#c8c8c8" stroke-width="0.8"/>
<line x1="291.6" y1="269" x2="299" y2="269" stroke="#2f9ee0" stroke-width="1.5"/>
<text x="299.2" y="272.2" font-family="Liberation Sans" font-size="8.7" font-weight="bold" text-anchor="start" fill="#1a1a1a" textLength="31.5" lengthAdjust="spacingAndGlyphs" >C/aGe/C</text>
<line x1="291.6" y1="279.6" x2="299" y2="279.6" stroke="#f47a45" stroke-width="1.5"/>
<text x="299.2" y="282.8" font-family="Liberation Sans" font-size="8.7" font-weight="bold" text-anchor="start" fill="#1a1a1a" textLength="23" lengthAdjust="spacingAndGlyphs" >aGe/C</text>
<line x1="291.6" y1="290" x2="299" y2="290" stroke="#f2b13a" stroke-width="1.5"/>
<text x="299.2" y="293.2" font-family="Liberation Sans" font-size="8.7" font-weight="bold" text-anchor="start" fill="#1a1a1a" textLength="44" lengthAdjust="spacingAndGlyphs" >aGe+cGe/C</text>
<line x1="291.6" y1="300" x2="299" y2="300" stroke="#b45cc8" stroke-width="1.5"/>
<text x="299.2" y="303.2" font-family="Liberation Sans" font-size="8.7" font-weight="bold" text-anchor="start" fill="#1a1a1a" textLength="23" lengthAdjust="spacingAndGlyphs" >cGe/C</text>
<text x="190.5" y="274" font-family="Liberation Sans" font-size="17.5" fill="#1a1a1a">(<tspan font-weight="bold">b</tspan>)</text>
<text x="219.6" y="371.3" font-family="Liberation Sans" font-size="8.5" font-weight="bold" text-anchor="end" fill="#1a1a1a" >2</text>
<text x="219.6" y="353.6" font-family="Liberation Sans" font-size="8.5" font-weight="bold" text-anchor="end" fill="#1a1a1a" >4</text>
<text x="219.6" y="335.9" font-family="Liberation Sans" font-size="8.5" font-weight="bold" text-anchor="end" fill="#1a1a1a" >6</text>
<text x="219.6" y="318.2" font-family="Liberation Sans" font-size="8.5" font-weight="bold" text-anchor="end" fill="#1a1a1a" >8</text>
<text x="219.6" y="300.5" font-family="Liberation Sans" font-size="8.5" font-weight="bold" text-anchor="end" fill="#1a1a1a" >10</text>
<text x="219.6" y="282.8" font-family="Liberation Sans" font-size="8.5" font-weight="bold" text-anchor="end" fill="#1a1a1a" >12</text>
<text x="222.2" y="388" font-family="Liberation Sans" font-size="8.5" font-weight="bold" text-anchor="middle" fill="#1a1a1a" >0</text>
<text x="249.8" y="388" font-family="Liberation Sans" font-size="8.5" font-weight="bold" text-anchor="middle" fill="#1a1a1a" >10</text>
<text x="277.4" y="388" font-family="Liberation Sans" font-size="8.5" font-weight="bold" text-anchor="middle" fill="#1a1a1a" >20</text>
<text x="305" y="388" font-family="Liberation Sans" font-size="8.5" font-weight="bold" text-anchor="middle" fill="#1a1a1a" >30</text>
<text x="332.6" y="388" font-family="Liberation Sans" font-size="8.5" font-weight="bold" text-anchor="middle" fill="#1a1a1a" >40</text>
<text x="222.3" y="259.6" font-family="Liberation Sans" font-size="10.5" fill="#1a1a1a">×<tspan font-weight="bold" font-size="9.4">10</tspan><tspan font-weight="bold" font-size="7" dy="-4.5">-4</tspan></text>
<text x="245.6" y="400" font-family="Liberation Sans" font-size="10.3" font-weight="bold" text-anchor="start" fill="#1a1a1a" textLength="76.4" lengthAdjust="spacingAndGlyphs" >Energy loss / eV</text>
<text transform="translate(208,317.6) rotate(-90)" x="0" y="0" font-family="Liberation Sans" font-size="10.3" font-weight="bold" text-anchor="middle" fill="#1a1a1a">Rel. counts</text>
<line x1="416.5" y1="262.3" x2="416.5" y2="378.4" stroke="#f1f1f1" stroke-width="1"/>
<line x1="441.2" y1="262.3" x2="441.2" y2="378.4" stroke="#f1f1f1" stroke-width="1"/>
<line x1="465.8" y1="262.3" x2="465.8" y2="378.4" stroke="#f1f1f1" stroke-width="1"/>
<line x1="490.5" y1="262.3" x2="490.5" y2="378.4" stroke="#f1f1f1" stroke-width="1"/>
<line x1="391.8" y1="339.7" x2="510.6" y2="339.7" stroke="#f1f1f1" stroke-width="1"/>
<line x1="391.8" y1="301" x2="510.6" y2="301" stroke="#f1f1f1" stroke-width="1"/>
<path d="M391.8,378.4 L393,367 L394.3,356.9 L395.5,347.9 L396.7,339.9 L398,332.9 L399.2,326.6 L400.4,321.1 L401.7,316.2 L402.9,311.8 L404.1,307.9 L405.4,304.5 L406.6,301.4 L407.8,298.7 L409.1,296.3 L410.3,294.2 L411.5,292.3 L412.8,290.6 L414,289.2 L415.2,287.8 L416.5,286.7 L417.7,285.6 L418.9,284.7 L420.2,283.9 L421.4,283.2 L422.6,282.6 L423.9,282 L425.1,281.5 L426.3,281 L427.6,280.6 L428.8,280.3 L430,280 L431.3,279.7 L432.5,279.5 L433.7,279.2 L435,279 L436.2,278.9 L437.4,278.7 L438.7,278.6 L439.9,278.5 L441.2,278.4" fill="none" stroke="rgb(50,40,210)" stroke-width="1.15"/>
<path d="M391.8,378.4 L393,368.1 L394.3,358.8 L395.5,350.5 L396.7,343 L398,336.3 L399.2,330.3 L400.4,324.9 L401.7,320 L402.9,315.6 L404.1,311.7 L405.4,308.2 L406.6,305 L407.8,302.2 L409.1,299.7 L410.3,297.4 L411.5,295.3 L412.8,293.5 L414,291.8 L415.2,290.3 L416.5,289 L417.7,287.8 L418.9,286.7 L420.2,285.7 L421.4,284.9 L422.6,284.1 L423.9,283.4 L425.1,282.7 L426.3,282.2 L427.6,281.7 L428.8,281.2 L430,280.8 L431.3,280.4 L432.5,280.1 L433.7,279.8 L435,279.5 L436.2,279.3 L437.4,279.1 L438.7,278.9 L439.9,278.7 L441.2,278.6" fill="none" stroke="rgb(85,45,200)" stroke-width="1.15"/>
<path d="M391.8,378.4 L393,369 L394.3,360.4 L395.5,352.6 L396.7,345.6 L398,339.2 L399.2,333.4 L400.4,328.1 L401.7,323.3 L402.9,319 L404.1,315.1 L405.4,311.5 L406.6,308.3 L407.8,305.3 L409.1,302.7 L410.3,300.3 L411.5,298.1 L412.8,296.1 L414,294.3 L415.2,292.6 L416.5,291.2 L417.7,289.8 L418.9,288.6 L420.2,287.5 L421.4,286.5 L422.6,285.6 L423.9,284.8 L425.1,284 L426.3,283.3 L427.6,282.7 L428.8,282.1 L430,281.6 L431.3,281.2 L432.5,280.8 L433.7,280.4 L435,280 L436.2,279.7 L437.4,279.4 L438.7,279.2 L439.9,279 L441.2,278.7" fill="none" stroke="rgb(115,50,190)" stroke-width="1.15"/>
<path d="M391.8,378.4 L393,369.7 L394.3,361.7 L395.5,354.5 L396.7,347.8 L398,341.7 L399.2,336.1 L400.4,331 L401.7,326.3 L402.9,322.1 L404.1,318.2 L405.4,314.6 L406.6,311.3 L407.8,308.3 L409.1,305.6 L410.3,303 L411.5,300.8 L412.8,298.6 L414,296.7 L415.2,295 L416.5,293.4 L417.7,291.9 L418.9,290.5 L420.2,289.3 L421.4,288.2 L422.6,287.1 L423.9,286.2 L425.1,285.3 L426.3,284.5 L427.6,283.8 L428.8,283.1 L430,282.5 L431.3,282 L432.5,281.5 L433.7,281 L435,280.6 L436.2,280.2 L437.4,279.8 L438.7,279.5 L439.9,279.2 L441.2,278.9" fill="none" stroke="rgb(145,55,175)" stroke-width="1.15"/>
<path d="M391.8,378.4 L393,370.3 L394.3,362.9 L395.5,356 L396.7,349.7 L398,343.9 L399.2,338.5 L400.4,333.5 L401.7,328.9 L402.9,324.7 L404.1,320.8 L405.4,317.3 L406.6,314 L407.8,310.9 L409.1,308.1 L410.3,305.5 L411.5,303.1 L412.8,300.9 L414,298.9 L415.2,297 L416.5,295.3 L417.7,293.7 L418.9,292.2 L420.2,290.9 L421.4,289.7 L422.6,288.5 L423.9,287.4 L425.1,286.5 L426.3,285.6 L427.6,284.7 L428.8,284 L430,283.3 L431.3,282.6 L432.5,282 L433.7,281.5 L435,281 L436.2,280.5 L437.4,280 L438.7,279.6 L439.9,279.3 L441.2,278.9" fill="none" stroke="rgb(170,55,160)" stroke-width="1.15"/>
<path d="M391.8,378.4 L393,370.8 L394.3,363.8 L395.5,357.3 L396.7,351.3 L398,345.7 L399.2,340.5 L400.4,335.6 L401.7,331.2 L402.9,327 L404.1,323.2 L405.4,319.6 L406.6,316.3 L407.8,313.2 L409.1,310.4 L410.3,307.7 L411.5,305.3 L412.8,303 L414,300.9 L415.2,298.9 L416.5,297.1 L417.7,295.4 L418.9,293.8 L420.2,292.4 L421.4,291 L422.6,289.8 L423.9,288.6 L425.1,287.5 L426.3,286.5 L427.6,285.6 L428.8,284.8 L430,284 L431.3,283.2 L432.5,282.5 L433.7,281.9 L435,281.3 L436.2,280.8 L437.4,280.3 L438.7,279.8 L439.9,279.3 L441.2,278.9" fill="none" stroke="rgb(195,55,140)" stroke-width="1.15"/>
<path d="M391.8,378.4 L393.3,369.6 L394.8,361.6 L396.2,354.3 L397.7,347.6 L399.2,341.5 L400.7,335.9 L402.2,330.8 L403.6,326.1 L405.1,321.9 L406.6,318 L408.1,314.4 L409.6,311.1 L411,308.2 L412.5,305.4 L414,302.9 L415.5,300.7 L417,298.6 L418.4,296.7 L419.9,295 L421.4,293.4 L422.9,291.9 L424.4,290.6 L425.9,289.4 L427.3,288.3 L428.8,287.3 L430.3,286.4 L431.8,285.5 L433.3,284.7 L434.7,284 L436.2,283.4 L437.7,282.8 L439.2,282.3 L440.7,281.8 L442.1,281.3 L443.6,280.9 L445.1,280.5 L446.6,280.2 L448.1,279.9 L449.5,279.6 L451,279.3" fill="none" stroke="rgb(215,35,110)" stroke-width="1.15"/>
<path d="M391.8,378.4 L393.5,370.5 L395.3,363.2 L397,356.4 L398.7,350.2 L400.4,344.5 L402.2,339.2 L403.9,334.3 L405.6,329.8 L407.3,325.6 L409.1,321.7 L410.8,318.2 L412.5,314.9 L414.3,311.9 L416,309.1 L417.7,306.5 L419.4,304.1 L421.2,301.9 L422.9,299.9 L424.6,298 L426.3,296.3 L428.1,294.7 L429.8,293.2 L431.5,291.9 L433.3,290.6 L435,289.4 L436.7,288.4 L438.4,287.4 L440.2,286.5 L441.9,285.6 L443.6,284.9 L445.3,284.1 L447.1,283.5 L448.8,282.9 L450.5,282.3 L452.3,281.8 L454,281.3 L455.7,280.9 L457.4,280.4 L459.2,280.1 L460.9,279.7" fill="none" stroke="rgb(232,35,85)" stroke-width="1.15"/>
<path d="M391.8,378.4 L393.8,371.1 L395.7,364.4 L397.7,358.1 L399.7,352.2 L401.7,346.8 L403.6,341.7 L405.6,337 L407.6,332.6 L409.6,328.5 L411.5,324.8 L413.5,321.2 L415.5,318 L417.5,314.9 L419.4,312.1 L421.4,309.4 L423.4,307 L425.4,304.7 L427.3,302.6 L429.3,300.6 L431.3,298.8 L433.3,297.1 L435.2,295.5 L437.2,294 L439.2,292.6 L441.2,291.4 L443.1,290.2 L445.1,289.1 L447.1,288 L449,287.1 L451,286.2 L453,285.4 L455,284.6 L456.9,283.9 L458.9,283.2 L460.9,282.6 L462.9,282 L464.8,281.5 L466.8,281 L468.8,280.5 L470.8,280.1" fill="none" stroke="rgb(245,35,65)" stroke-width="1.15"/>
<path d="M391.8,378.4 L394,371.7 L396.2,365.3 L398.5,359.4 L400.7,353.9 L402.9,348.7 L405.1,343.9 L407.3,339.4 L409.6,335.1 L411.8,331.1 L414,327.4 L416.2,323.9 L418.4,320.7 L420.7,317.6 L422.9,314.8 L425.1,312.1 L427.3,309.6 L429.6,307.3 L431.8,305.1 L434,303.1 L436.2,301.1 L438.4,299.3 L440.7,297.7 L442.9,296.1 L445.1,294.6 L447.3,293.3 L449.5,292 L451.8,290.8 L454,289.6 L456.2,288.6 L458.4,287.6 L460.6,286.7 L462.9,285.8 L465.1,285 L467.3,284.2 L469.5,283.5 L471.7,282.9 L474,282.2 L476.2,281.7 L478.4,281.1 L480.6,280.6" fill="none" stroke="rgb(252,38,50)" stroke-width="1.15"/>
<path d="M391.8,378.4 L394.3,371.8 L396.7,365.7 L399.2,359.9 L401.7,354.5 L404.1,349.4 L406.6,344.7 L409.1,340.3 L411.5,336.1 L414,332.2 L416.5,328.5 L418.9,325.1 L421.4,321.9 L423.9,318.9 L426.3,316.1 L428.8,313.4 L431.3,310.9 L433.7,308.6 L436.2,306.4 L438.7,304.4 L441.2,302.5 L443.6,300.7 L446.1,299 L448.6,297.5 L451,296 L453.5,294.6 L456,293.3 L458.4,292.1 L460.9,291 L463.4,289.9 L465.8,288.9 L468.3,288 L470.8,287.1 L473.2,286.3 L475.7,285.5 L478.2,284.8 L480.6,284.1 L483.1,283.5 L485.6,282.9 L488,282.3 L490.5,281.8" fill="none" stroke="rgb(255,40,40)" stroke-width="1.15"/>
<path d="M391.8,378.4 L394.5,372.1 L397.2,366.2 L399.9,360.6 L402.7,355.4 L405.4,350.5 L408.1,345.9 L410.8,341.6 L413.5,337.5 L416.2,333.7 L418.9,330.1 L421.7,326.7 L424.4,323.6 L427.1,320.6 L429.8,317.8 L432.5,315.2 L435.2,312.7 L437.9,310.4 L440.7,308.2 L443.4,306.2 L446.1,304.2 L448.8,302.4 L451.5,300.8 L454.2,299.2 L456.9,297.7 L459.7,296.3 L462.4,294.9 L465.1,293.7 L467.8,292.5 L470.5,291.4 L473.2,290.4 L475.9,289.4 L478.7,288.5 L481.4,287.7 L484.1,286.9 L486.8,286.1 L489.5,285.4 L492.2,284.8 L494.9,284.1 L497.7,283.6 L500.4,283" fill="none" stroke="rgb(255,45,30)" stroke-width="1.15"/>
<path d="M391.8,378.4 L394.8,372.4 L397.7,366.7 L400.7,361.4 L403.6,356.3 L406.6,351.6 L409.6,347.1 L412.5,342.9 L415.5,339 L418.4,335.2 L421.4,331.7 L424.4,328.4 L427.3,325.3 L430.3,322.4 L433.3,319.6 L436.2,317 L439.2,314.6 L442.1,312.3 L445.1,310.1 L448.1,308.1 L451,306.1 L454,304.3 L456.9,302.6 L459.9,301 L462.9,299.5 L465.8,298.1 L468.8,296.7 L471.7,295.4 L474.7,294.3 L477.7,293.1 L480.6,292.1 L483.6,291.1 L486.6,290.1 L489.5,289.3 L492.5,288.4 L495.4,287.6 L498.4,286.9 L501.4,286.2 L504.3,285.6 L507.3,284.9 L510.2,284.4" fill="none" stroke="rgb(255,55,25)" stroke-width="1.15" stroke-dasharray="1.2,1.4"/>
<rect x="391.8" y="262.3" width="118.8" height="116.1" fill="none" stroke="#b4b4b4" stroke-width="1"/>
<path d="M390.8,269.1 L393.8,272.1 M390.8,272.1 L393.8,269.1" stroke="#111" stroke-width="1.2"/>
<path d="M392.1,269.1 L395.1,272.1 M392.1,272.1 L395.1,269.1" stroke="#111" stroke-width="1.2"/>
<path d="M393.4,268.9 L396.4,271.9 M393.4,271.9 L396.4,268.9" stroke="#111" stroke-width="1.2"/>
<path d="M394.7,268.9 L397.7,271.9 M394.7,271.9 L397.7,268.9" stroke="#111" stroke-width="1.2"/>
<path d="M395.7,266.1 L398.7,269.1 M395.7,269.1 L398.7,266.1" stroke="#111" stroke-width="1.2"/>
<path d="M395.7,271.9 L398.7,274.9 M395.7,274.9 L398.7,271.9" stroke="#111" stroke-width="1.2"/>
<path d="M396.9,268.7 L399.9,271.7 M396.9,271.7 L399.9,268.7" stroke="#111" stroke-width="1.2"/>
<path d="M400.5,278 L403.5,281 M400.5,281 L403.5,278" stroke="#111" stroke-width="1.2"/>
<path d="M405.2,288 L408.2,291 M405.2,291 L408.2,288" stroke="#111" stroke-width="1.2"/>
<path d="M410.3,299.5 L413.3,302.5 M410.3,302.5 L413.3,299.5" stroke="#111" stroke-width="1.2"/>
<path d="M412.7,304.5 L415.7,307.5 M412.7,307.5 L415.7,304.5" stroke="#111" stroke-width="1.2"/>
<path d="M415.3,309.5 L418.3,312.5 M415.3,312.5 L418.3,309.5" stroke="#111" stroke-width="1.2"/>
<path d="M420.3,318.1 L423.3,321.1 M420.3,321.1 L423.3,318.1" stroke="#111" stroke-width="1.2"/>
<path d="M425.1,324.8 L428.1,327.8 M425.1,327.8 L428.1,324.8" stroke="#111" stroke-width="1.2"/>
<path d="M430.1,330.9 L433.1,333.9 M430.1,333.9 L433.1,330.9" stroke="#111" stroke-width="1.2"/>
<path d="M435.2,335.5 L438.2,338.5 M435.2,338.5 L438.2,335.5" stroke="#111" stroke-width="1.2"/>
<path d="M439.9,339.1 L442.9,342.1 M439.9,342.1 L442.9,339.1" stroke="#111" stroke-width="1.2"/>
<path d="M449.9,345.5 L452.9,348.5 M449.9,348.5 L452.9,345.5" stroke="#111" stroke-width="1.2"/>
<path d="M459.9,350.1 L462.9,353.1 M459.9,353.1 L462.9,350.1" stroke="#111" stroke-width="1.2"/>
<path d="M469.5,353.9 L472.5,356.9 M469.5,356.9 L472.5,353.9" stroke="#111" stroke-width="1.2"/>
<path d="M479.5,356.5 L482.5,359.5 M479.5,359.5 L482.5,356.5" stroke="#111" stroke-width="1.2"/>
<path d="M489.5,358.9 L492.5,361.9 M489.5,361.9 L492.5,358.9" stroke="#111" stroke-width="1.2"/>
<path d="M499.5,360.9 L502.5,363.9 M499.5,363.9 L502.5,360.9" stroke="#111" stroke-width="1.2"/>
<path d="M508.9,362.1 L511.9,365.1 M508.9,365.1 L511.9,362.1" stroke="#111" stroke-width="1.2"/>
<text x="389.8" y="381.5" font-family="Liberation Sans" font-size="8.5" font-weight="bold" text-anchor="end" fill="#1a1a1a" >0</text>
<text x="389.8" y="342.8" font-family="Liberation Sans" font-size="8.5" font-weight="bold" text-anchor="end" fill="#1a1a1a" >1</text>
<text x="389.8" y="304.1" font-family="Liberation Sans" font-size="8.5" font-weight="bold" text-anchor="end" fill="#1a1a1a" >2</text>
<text x="389.8" y="265.4" font-family="Liberation Sans" font-size="8.5" font-weight="bold" text-anchor="end" fill="#1a1a1a" >3</text>
<text x="513" y="381.5" font-family="Liberation Sans" font-size="8.5" font-weight="bold" text-anchor="start" fill="#1a1a1a" >0</text>
<text x="513" y="352.5" font-family="Liberation Sans" font-size="8.5" font-weight="bold" text-anchor="start" fill="#1a1a1a" >20</text>
<text x="513" y="323.4" font-family="Liberation Sans" font-size="8.5" font-weight="bold" text-anchor="start" fill="#1a1a1a" >40</text>
<text x="513" y="294.4" font-family="Liberation Sans" font-size="8.5" font-weight="bold" text-anchor="start" fill="#1a1a1a" >60</text>
<text x="513" y="265.4" font-family="Liberation Sans" font-size="8.5" font-weight="bold" text-anchor="start" fill="#1a1a1a" >80</text>
<text x="391.8" y="389.9" font-family="Liberation Sans" font-size="8.5" font-weight="bold" text-anchor="middle" fill="#1a1a1a" >0</text>
<text x="416.5" y="389.9" font-family="Liberation Sans" font-size="8.5" font-weight="bold" text-anchor="middle" fill="#1a1a1a" >50</text>
<text x="441.2" y="389.9" font-family="Liberation Sans" font-size="8.5" font-weight="bold" text-anchor="middle" fill="#1a1a1a" >100</text>
<text x="465.8" y="389.9" font-family="Liberation Sans" font-size="8.5" font-weight="bold" text-anchor="middle" fill="#1a1a1a" >150</text>
<text x="490.5" y="389.9" font-family="Liberation Sans" font-size="8.5" font-weight="bold" text-anchor="middle" fill="#1a1a1a" >200</text>
<text x="403.4" y="402.3" font-family="Liberation Sans" font-size="9.6" font-weight="bold" fill="#1a1a1a" textLength="95.2" lengthAdjust="spacingAndGlyphs">Applied current / <tspan font-family="Liberation Serif" font-style="italic" font-weight="normal">μ</tspan>A</text>
<text transform="translate(381.5,320.6) rotate(-90)" x="0" y="0" font-family="Liberation Sans" font-size="9.6" font-weight="bold" text-anchor="middle" textLength="96" lengthAdjust="spacingAndGlyphs" fill="#1a1a1a">Measured voltage / V</text>
<text transform="translate(535,319.7) rotate(-90)" x="0" y="0" font-family="Liberation Sans" font-size="9.9" font-weight="bold" text-anchor="middle" fill="#1a1a1a">Resistance / kΩ</text>
<text x="350.5" y="276" font-family="Liberation Sans" font-size="16" fill="#1a1a1a">(<tspan font-weight="bold">c</tspan>)</text>
</svg></body></html>
